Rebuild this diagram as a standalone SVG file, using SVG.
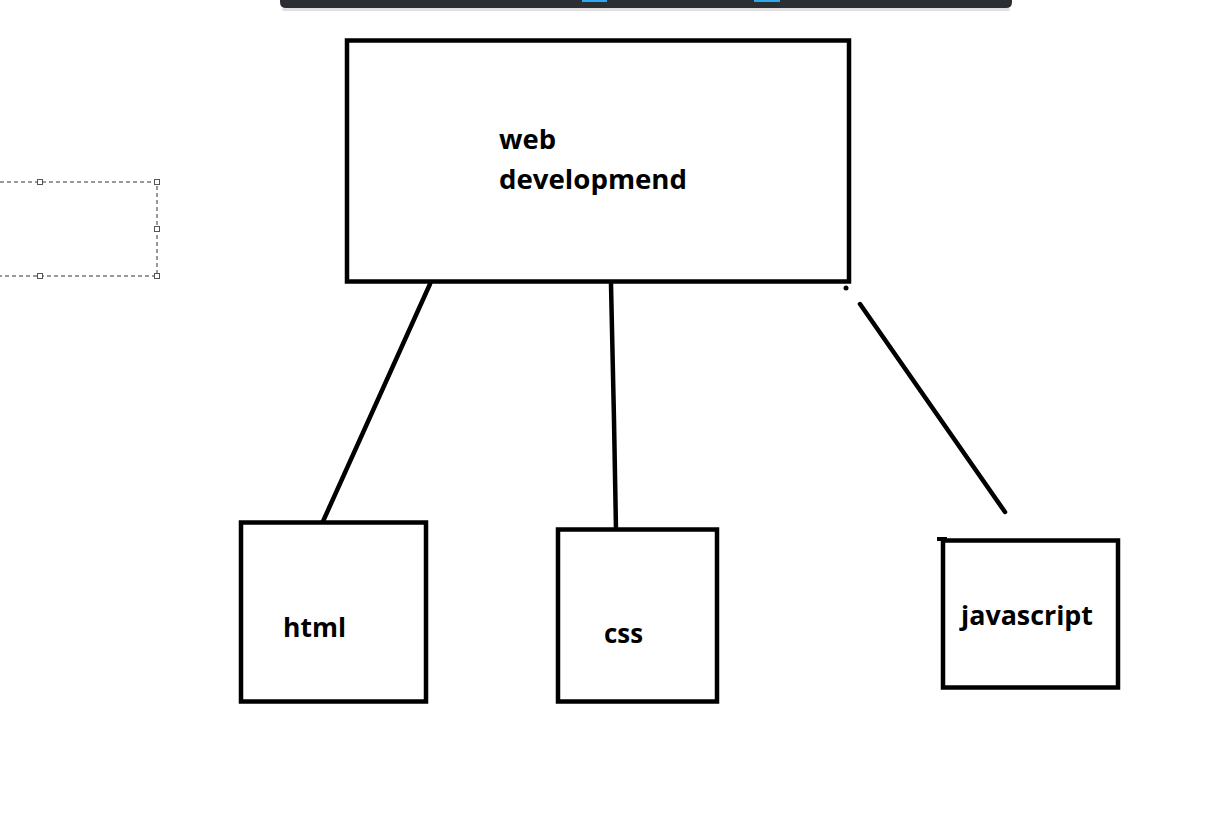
<svg xmlns="http://www.w3.org/2000/svg" width="1212" height="816" viewBox="0 0 1212 816">
<style>
.box{fill:#fff;stroke:#000;stroke-width:4.5}
.ln{stroke:#000;stroke-width:4.5;stroke-linecap:round;fill:none}
.t{font-family:"Open Sans","Noto Sans","DejaVu Sans",sans-serif;font-weight:bold;fill:#000;font-size:27px}
.sel{stroke:#333;stroke-width:1;stroke-dasharray:4 3;fill:none}
.h{fill:#fff;stroke:#555;stroke-width:1}
</style>
<rect width="1212" height="816" fill="#fff"/>
<g id="toolbar">
<rect x="282" y="8" width="728" height="3" rx="2" fill="#000" opacity="0.12"/>
<path d="M280 0 H1012 V2 Q1012 8 1006 8 H286 Q280 8 280 2 Z" fill="#2b2e33"/>
<rect x="582" y="0" width="25" height="2" fill="#2aa9f0"/>
<rect x="754" y="0" width="26" height="2" fill="#2aa9f0"/>
</g>
<g id="selection">
<path class="sel" d="M0 182 H157 V276 H0"/>
<rect class="h" x="37.5" y="179.5" width="5" height="5"/>
<rect class="h" x="154.5" y="179.5" width="5" height="5"/>
<rect class="h" x="154.5" y="226.5" width="5" height="5"/>
<rect class="h" x="37.5" y="273.5" width="5" height="5"/>
<rect class="h" x="154.5" y="273.5" width="5" height="5"/>
</g>
<g id="connectors">
<line class="ln" x1="430" y1="284" x2="320" y2="528"/>
<polyline class="ln" points="611,284 614,420 616,530"/>
<line class="ln" x1="860" y1="304" x2="1005" y2="512"/>
<circle cx="846" cy="288" r="2.5" fill="#000"/>
</g>
<g id="web">
<rect class="box" x="347" y="40.5" width="502" height="241"/>
<text class="t" x="499" y="149" textLength="57" lengthAdjust="spacingAndGlyphs">web</text>
<text class="t" x="499" y="189" textLength="188" lengthAdjust="spacingAndGlyphs">developmend</text>
</g>
<g id="html">
<rect class="box" x="241" y="522.5" width="185" height="179"/>
<text class="t" x="283" y="637" textLength="63" lengthAdjust="spacingAndGlyphs">html</text>
</g>
<g id="css">
<rect class="box" x="558" y="529.5" width="159" height="172"/>
<text class="t" x="604" y="643" textLength="39" lengthAdjust="spacingAndGlyphs">css</text>
</g>
<g id="javascript">
<rect class="box" x="943" y="540.5" width="175" height="147"/>
<rect x="937" y="537" width="10" height="4" fill="#000"/>
<text class="t" x="961" y="625" textLength="132" lengthAdjust="spacingAndGlyphs">javascript</text>
</g>
</svg>
